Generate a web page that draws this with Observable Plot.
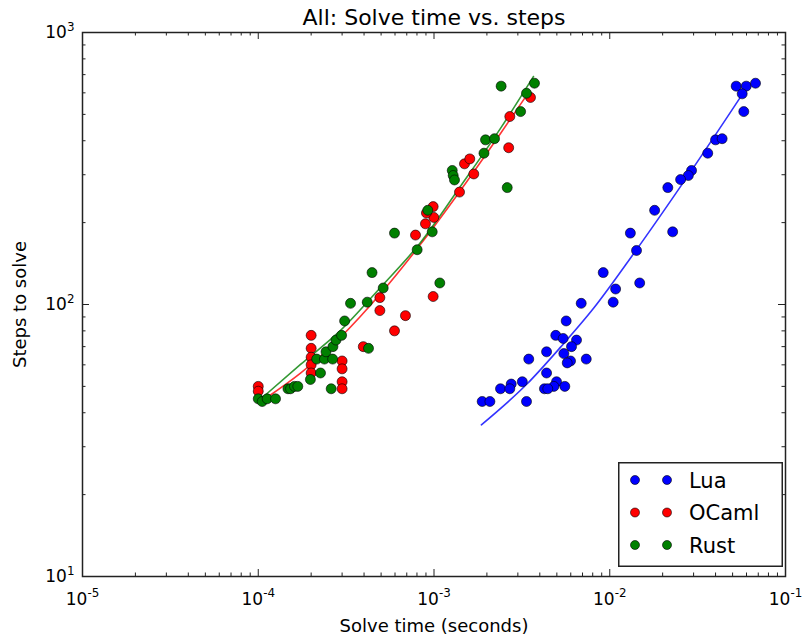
<!DOCTYPE html>
<html><head><meta charset="utf-8">
<script src="https://cdn.jsdelivr.net/npm/d3@7"></script>
<script src="https://cdn.jsdelivr.net/npm/@observablehq/plot@0.6"></script>
<style>
body{margin:0;background:#fff;}
#wrap{position:relative;width:803px;height:639px;font-family:"DejaVu Sans",sans-serif;}
#legend{position:absolute;left:618px;top:462px;}
</style></head><body><div id="wrap"></div>
<script>
const title = "All: Solve time vs. steps";
const xLabel = "Solve time (seconds)";
const yLabel = "Steps to solve";
const languages = ["Lua", "OCaml", "Rust"];
const colors = ["#0000ff", "#ff0000", "#008000"];
const xTicks = [1e-5, 1e-4, 1e-3, 1e-2, 1e-1];
const yTicks = [10, 100, 1000];

const luaTime = [0.0524, 0.0598, 0.0675, 0.0567, 0.0579, 0.0400, 0.0436, 0.0361, 0.0292, 0.0280, 0.0253, 0.0214, 0.0180, 0.0131, 0.0228, 0.0142, 0.00918, 0.0108, 0.0148, 0.01046, 0.00688, 0.00565, 0.00493, 0.00543, 0.00647, 0.00606, 0.00437, 0.00346, 0.00548, 0.00598, 0.00573, 0.00735, 0.00437, 0.00318, 0.00498, 0.00275, 0.00239, 0.00270, 0.00481, 0.00555, 0.00425, 0.00444, 0.00336, 0.00188, 0.00208];
const luaSteps = [635, 635, 651, 595, 512, 403, 407, 360, 311, 298, 288, 269, 222, 183, 185, 158, 131, 114, 120, 102, 101, 87, 77, 75, 74, 70, 67, 63, 66, 62, 61, 63, 56, 52, 52, 51, 49, 49, 50, 50, 49, 49, 44, 44, 44];

const ocamlTime = [1e-4, 1e-4, 2e-4, 2e-4, 2e-4, 2e-4, 2e-4, 3e-4, 3e-4, 3e-4, 3e-4, 3.96e-4, 4.92e-4, 4.92e-4, 5.96e-4, 6.88e-4, 9.89e-4, 7.85e-4, 8.94e-4, 9.97e-4, 9.06e-4, 9.89e-4, 1.397e-3, 1.684e-3, 1.491e-3, 1.598e-3, 2.66e-3, 2.70e-3, 3.54e-3];
const ocamlSteps = [50, 48, 77, 69, 64, 60, 56, 62, 58, 52, 49, 70, 106, 95, 80, 91, 107, 180, 198, 209, 217, 229, 259, 302, 329, 343, 377, 491, 577];

const rustTime = [1.0e-4, 1.053e-4, 1.124e-4, 1.254e-4, 1.476e-4, 1.526e-4, 1.608e-4, 1.679e-4, 1.98e-4, 2.26e-4, 2.15e-4, 2.38e-4, 2.65e-4, 2.43e-4, 2.66e-4, 2.77e-4, 2.98e-4, 3.10e-4, 3.35e-4, 4.17e-4, 4.44e-4, 5.14e-4, 4.24e-4, 2.60e-4, 5.96e-4, 8.02e-4, 9.22e-4, 9.77e-4, 1.079e-3, 1.27e-3, 1.286e-3, 1.308e-3, 1.925e-3, 1.964e-3, 2.21e-3, 2.61e-3, 3.11e-3, 3.36e-3, 3.73e-3, 2.41e-3];
const rustSteps = [45, 44, 45, 45, 49, 49, 50, 50, 53, 56, 63, 63, 63, 67, 70, 74, 77, 87, 101, 102, 131, 115, 69, 49, 183, 159, 222, 185, 120, 311, 298, 287, 360, 403, 407, 269, 512, 598, 651, 635];

// fitted trend lines
const luaFitTime = [1.86e-3, 3.39e-3, 5.25e-3, 8.11e-3, 1.36e-2, 2.8e-2, 5.92e-2];
const luaFitSteps = [36.1, 51.1, 69.7, 97, 153, 299, 617];
const ocamlFitTime = [1.114e-4, 1.74e-4, 2.94e-4, 4.96e-4, 8.38e-4, 1.415e-3, 2.39e-3, 3.46e-3];
const ocamlFitSteps = [45.4, 55.9, 75.8, 109.5, 166.4, 262.5, 425, 603];
const rustFitTime = [1.057e-4, 1.74e-4, 2.94e-4, 4.96e-4, 8.38e-4, 1.415e-3, 2.39e-3, 3.68e-3];
const rustFitSteps = [45.5, 60.2, 80.3, 115.5, 169, 272, 444, 689];

const series = [
  [luaTime, luaSteps, luaFitTime, luaFitSteps],
  [ocamlTime, ocamlSteps, ocamlFitTime, ocamlFitSteps],
  [rustTime, rustSteps, rustFitTime, rustFitSteps]
];
const points = [], fits = [];
series.forEach(([t, s, ft, fs], i) => {
  t.forEach((v, j) => points.push({lang: languages[i], t: v, s: s[j]}));
  ft.forEach((v, j) => fits.push({lang: languages[i], t: v, s: fs[j]}));
});

const W = 803, H = 639, mt = 32, mb = 63, ml = 82, mr = 18;
const PW = W - ml - mr, PH = H - mt - mb;
const isDecade = v => Math.abs(Math.log10(v) - Math.round(Math.log10(v))) < 1e-6;
const xMinor = d3.scaleLog().domain(d3.extent(xTicks)).ticks().filter(v => !isDecade(v));
const yMinor = d3.scaleLog().domain(d3.extent(yTicks)).ticks().filter(v => !isDecade(v));
const fmt = d => "10^" + Math.round(Math.log10(d));
const tickColor = "#222";
const majorLen = 7, minorLen = 3.5;

const plot = Plot.plot({
  width: W, height: H,
  marginTop: mt, marginBottom: mb, marginLeft: ml, marginRight: mr,
  style: {fontFamily: "DejaVu Sans, sans-serif", fontSize: "17px", color: "#000", background: "#fff"},
  x: {type: "log", domain: d3.extent(xTicks), ticks: xTicks, tickFormat: fmt, tickSize: 0, tickPadding: 16, label: null},
  y: {type: "log", domain: d3.extent(yTicks), ticks: yTicks, tickFormat: fmt, tickSize: 0, tickPadding: 8, label: null},
  color: {domain: languages, range: colors},
  marks: [
    Plot.ruleX(xTicks, {x: d => d, insetTop: PH - majorLen, stroke: tickColor}),
    Plot.ruleX(xTicks, {x: d => d, insetBottom: PH - majorLen, stroke: tickColor}),
    Plot.ruleX(xMinor, {x: d => d, insetTop: PH - minorLen, stroke: tickColor}),
    Plot.ruleX(xMinor, {x: d => d, insetBottom: PH - minorLen, stroke: tickColor}),
    Plot.ruleY(yTicks, {y: d => d, insetRight: PW - majorLen, stroke: tickColor}),
    Plot.ruleY(yTicks, {y: d => d, insetLeft: PW - majorLen, stroke: tickColor}),
    Plot.ruleY(yMinor, {y: d => d, insetRight: PW - minorLen, stroke: tickColor}),
    Plot.ruleY(yMinor, {y: d => d, insetLeft: PW - minorLen, stroke: tickColor}),
    Plot.line(fits, {x: "t", y: "s", z: "lang", stroke: "lang", curve: "monotone-x", strokeWidth: 1.6, strokeOpacity: 0.8}),
    Plot.dot(points, {x: "t", y: "s", fill: "lang", stroke: "#000", strokeWidth: 0.6, r: 5}),
    Plot.frame({stroke: "#222", strokeWidth: 1.5}),
    Plot.text([title], {text: d => d, frameAnchor: "top", lineAnchor: "middle", textAnchor: "middle", dy: -15, fontSize: 22}),
    Plot.text([xLabel], {text: d => d, frameAnchor: "bottom", lineAnchor: "middle", textAnchor: "middle", dy: 50, fontSize: 18}),
    Plot.text([yLabel], {text: d => d, frameAnchor: "left", lineAnchor: "middle", textAnchor: "middle", dx: -62, rotate: -90, fontSize: 18})
  ]
});

// superscript exponents in tick labels
plot.querySelectorAll("text").forEach(t => {
  const s = t.textContent;
  if (!s.includes("^")) return;
  const [b, e] = s.split("^");
  t.textContent = b;
  const ts = document.createElementNS("http://www.w3.org/2000/svg", "tspan");
  ts.setAttribute("dy", "-0.6em");
  ts.setAttribute("font-size", "70%");
  ts.textContent = e;
  t.appendChild(ts);
});

const wrap = document.getElementById("wrap");
wrap.appendChild(plot);

// legend
const lw = 165, lh = 105;
const leg = d3.create("svg").attr("id", "legend").attr("width", lw).attr("height", lh)
  .style("font-family", "DejaVu Sans, sans-serif");
leg.append("rect").attr("x", 0.75).attr("y", 0.75).attr("width", lw - 1.5).attr("height", lh - 1.5)
  .attr("fill", "#fff").attr("stroke", "#222").attr("stroke-width", 1.5);
languages.forEach((l, i) => {
  const cy = 18 + i * 32.5;
  [17, 49].forEach(cx => leg.append("circle").attr("cx", cx).attr("cy", cy).attr("r", 4.5)
    .attr("fill", colors[i]).attr("stroke", "#000").attr("stroke-width", 0.6));
  leg.append("text").attr("x", 71).attr("y", cy + 7.5).attr("font-size", 21).text(l);
});
wrap.appendChild(leg.node());
</script>
</body></html>
